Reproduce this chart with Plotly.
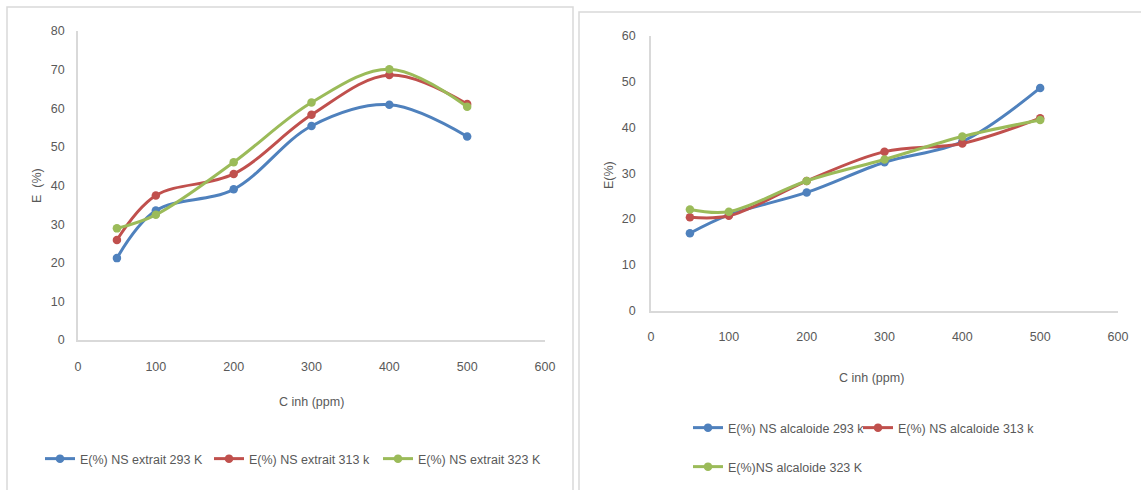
import plotly.graph_objects as go

W, H = 1141, 490

# ---- data ----
c_inh = [50, 100, 200, 300, 400, 500]

extrait_293 = [21.2, 33.5, 39.0, 55.4, 60.9, 52.7]
extrait_313 = [25.9, 37.4, 43.0, 58.3, 68.6, 61.1]
extrait_323 = [28.9, 32.4, 46.0, 61.5, 70.1, 60.4]

alcaloide_293 = [16.9, 20.9, 25.8, 32.4, 36.9, 48.6]
alcaloide_313 = [20.4, 20.7, 28.3, 34.7, 36.5, 42.0]
alcaloide_323 = [22.1, 21.6, 28.3, 33.0, 38.0, 41.6]

names_left = ["E(%) NS extrait 293 K", "E(%) NS extrait 313 k", "E(%) NS extrait 323 K"]
names_right = ["E(%) NS alcaloide 293 k", "E(%) NS alcaloide 313 k", "E(%)NS alcaloide 323 K"]

colors = ["#4F81BD", "#C0504D", "#9BBB59"]

FONT = "Liberation Sans, Arial, sans-serif"
FS = 12.5
TXT = "#595959"
AX = "#D9D9D9"


def px(x):
    return x / W


def py(y):
    return 1 - y / H


fig = go.Figure()

left_series = [extrait_293, extrait_313, extrait_323]
for vals, name, col in zip(left_series, names_left, colors):
    fig.add_trace(go.Scatter(
        x=c_inh, y=vals, name=name, mode="lines+markers",
        line=dict(color=col, width=3, shape="spline", smoothing=1),
        marker=dict(color=col, size=8.5, symbol="circle"),
        xaxis="x", yaxis="y", legend="legend"))

right_series = [alcaloide_293, alcaloide_313, alcaloide_323]
right_legends = ["legend2", "legend4", "legend3"]
for vals, name, col, lg in zip(right_series, names_right, colors, right_legends):
    fig.add_trace(go.Scatter(
        x=c_inh, y=vals, name=name, mode="lines+markers",
        line=dict(color=col, width=3, shape="spline", smoothing=1),
        marker=dict(color=col, size=8.5, symbol="circle"),
        xaxis="x2", yaxis="y2", legend=lg))

axis_common = dict(showgrid=False, zeroline=False, showline=True, linecolor=AX,
                   linewidth=1.5, tickfont=dict(family=FONT, size=FS, color=TXT),
                   ticks="", fixedrange=True)

legend_font = dict(family=FONT, size=FS, color=TXT)


def single_legend(xpix, ypix):
    return dict(orientation="h", x=px(xpix), y=py(ypix), xanchor="left", yanchor="middle",
                font=legend_font, bgcolor="rgba(0,0,0,0)")


fig.update_layout(
    width=W, height=H,
    margin=dict(l=0, r=0, t=0, b=0, autoexpand=False),
    paper_bgcolor="white", plot_bgcolor="white",
    font=dict(family=FONT, color=TXT),
    xaxis=dict(domain=[px(78), px(545)], range=[0, 600], dtick=100, anchor="y",
               ticklabelstandoff=14, **axis_common),
    yaxis=dict(domain=[py(340), py(31)], range=[0, 80], dtick=10, anchor="x",
               ticklabelstandoff=9, **axis_common),
    xaxis2=dict(domain=[px(651), px(1118)], range=[0, 600], dtick=100, anchor="y2",
                ticklabelstandoff=14, **axis_common),
    yaxis2=dict(domain=[py(310.7), py(35.7)], range=[0, 60], dtick=10, anchor="x2",
                ticklabelstandoff=11, **axis_common),
    legend=dict(orientation="h", x=px(40), y=py(459), xanchor="left", yanchor="middle",
                font=legend_font, entrywidth=124,
                entrywidthmode="pixels", bgcolor="rgba(0,0,0,0)"),
    legend2=single_legend(688, 428),
    legend4=single_legend(858, 428),
    legend3=single_legend(688, 467),
    showlegend=True,
    shapes=[
        dict(type="rect", xref="paper", yref="paper", x0=px(7), x1=px(573),
             y0=py(495), y1=py(7), line=dict(color=AX, width=1.5), layer="below"),
        dict(type="rect", xref="paper", yref="paper", x0=px(579), x1=px(1150),
             y0=py(495), y1=py(12), line=dict(color=AX, width=1.5), layer="below"),
    ],
    annotations=[
        dict(text="E  (%)", xref="paper", yref="paper", x=px(37), y=py(186),
             xanchor="center", yanchor="middle",
             textangle=-90, showarrow=False, font=legend_font),
        dict(text="C inh (ppm)", xref="paper", yref="paper", x=px(311), y=py(402),
             xanchor="center", yanchor="middle",
             showarrow=False, font=legend_font),
        dict(text="E(%)", xref="paper", yref="paper", x=px(609), y=py(175),
             xanchor="center", yanchor="middle",
             textangle=-90, showarrow=False, font=legend_font),
        dict(text="C inh (ppm)", xref="paper", yref="paper", x=px(871), y=py(378),
             xanchor="center", yanchor="middle",
             showarrow=False, font=legend_font),
    ],
)

fig.write_html("out.html",
               config={"displayModeBar": False},
               post_script="document.body.style.margin='0px';document.body.style.overflow='hidden';")
